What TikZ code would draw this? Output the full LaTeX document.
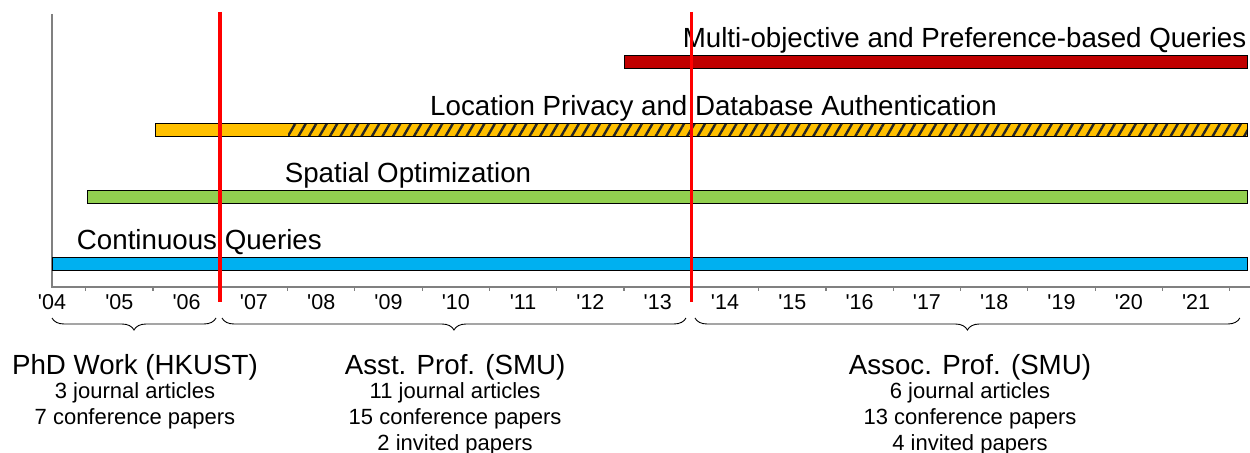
\documentclass[tikz,border=0pt]{standalone}
\usepackage{fontspec}
\setmainfont{Liberation Sans}
\newfontfamily\yearfont{Liberation Sans}
\usetikzlibrary{decorations.pathreplacing,patterns.meta}

\definecolor{cqblue}{HTML}{00B0F0}
\definecolor{sogreen}{HTML}{92D050}
\definecolor{lpyellow}{HTML}{FFC000}
\definecolor{mored}{HTML}{C00000}
\definecolor{axisgray}{HTML}{808080}

\begin{document}
\begin{tikzpicture}[x=67.3pt,y=1pt]
\tikzstyle{every node}+=[inner sep=0pt]
\tikzstyle{bar}=[draw=black,line width=0.8pt]
\tikzstyle{topic}=[anchor=base,font=\fontsize{27.7}{32}\selectfont]
\tikzstyle{yearlbl}=[anchor=base,font=\yearfont\fontsize{21.5}{25}\selectfont]
\tikzstyle{period}=[anchor=base,font=\fontsize{27.7}{32}\selectfont]
\tikzstyle{pubs}=[anchor=base,font=\fontsize{22}{26}\selectfont]
\tikzstyle{phase}=[red,line width=3.6pt]
\tikzstyle{span}=[decorate,decoration={brace,mirror,amplitude=12pt},line width=0.9pt]
\useasboundingbox (-0.7727,-166) rectangle (17.801,287);
% axes and year ticks
\draw [axisgray,line width=1.5pt] (0,273) -- (0,0) -- (17.801,0);
\foreach \t in {0,...,17}
  \draw [axisgray,line width=1.2pt] (\t+0.5,0) -- (\t+0.5,-4);
\foreach \yr [count=\i from 0] in {04,05,06,07,08,09,10,11,12,13,14,15,16,17,18,19,20,21}
  \node [yearlbl] (y\yr) at (\i,-23) {'\yr};
% topic bars
\draw [bar,fill=cqblue] (0,17) rectangle (17.756,29.7);
\draw [bar,fill=sogreen] (0.52,84) rectangle (17.756,96.7);
\fill [lpyellow] (1.53,151) rectangle (17.756,163.7);
\fill [pattern={Lines[angle=60,distance=9.1pt,line width=2.4pt]},pattern color=black!85] (3.507,151) rectangle (17.756,163.7);
\draw [bar] (1.53,151) rectangle (17.756,163.7);
\draw [bar,fill=mored] (8.5,218.5) rectangle (17.756,231.2);
\node [topic] (cq) at (2.19,37.7) {Continuous Queries};
\node [topic] (so) at (5.29,104.7) {Spatial Optimization};
\node [topic] (lp) at (9.83,171.7) {Location Privacy and Database Authentication};
\node [topic] (mo) at (13.56,239.3) {Multi-objective and Preference-based Queries};
% career changes
\draw [phase] (2.5,275) -- (2.5,-15);
\draw [phase] (9.5,275) -- (9.5,-15);
% periods
\coordinate (phdA) at (0,-31);
\coordinate (phdB) at (2.437,-31);
\coordinate (asstA) at (2.526,-31);
\coordinate (asstB) at (9.42,-31);
\coordinate (assocA) at (9.554,-31);
\coordinate (assocB) at (17.65,-31);
\draw [span] (phdA) -- (phdB);
\draw [span] (asstA) -- (asstB);
\draw [span] (assocA) -- (assocB);
\node [period] (phd) at (1.233,-87.3) {PhD Work (HKUST)};
\node [pubs] (phdj) at (1.233,-111.3) {3 journal articles};
\node [pubs] (phdc) at (1.233,-137) {7 conference papers};
\node [period] (asst) at (5.99,-87.3) {Asst. Prof. (SMU)};
\node [pubs] (asstj) at (5.99,-111.3) {11 journal articles};
\node [pubs] (asstc) at (5.99,-137) {15 conference papers};
\node [pubs] (assti) at (5.99,-163) {2 invited papers};
\node [period] (assoc) at (13.64,-87.3) {Assoc. Prof. (SMU)};
\node [pubs] (assocj) at (13.64,-111.3) {6 journal articles};
\node [pubs] (assocc) at (13.64,-137) {13 conference papers};
\node [pubs] (associ) at (13.64,-163) {4 invited papers};
\end{tikzpicture}
\end{document}
